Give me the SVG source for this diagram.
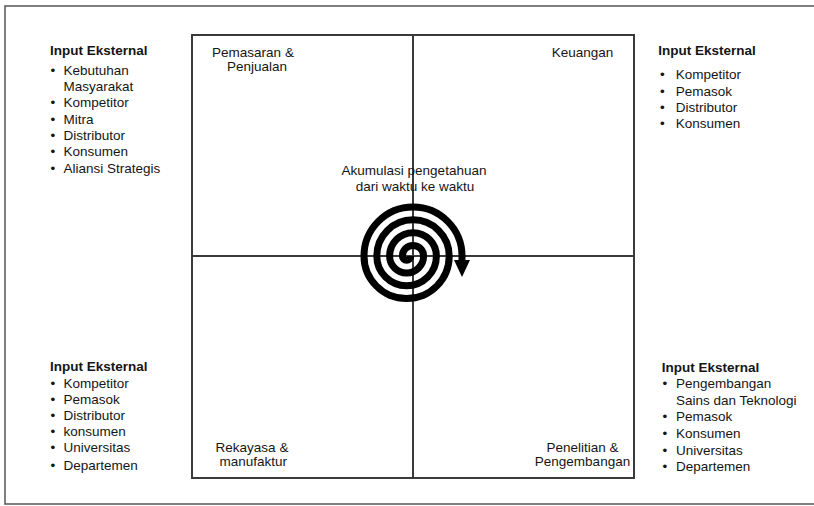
<svg xmlns="http://www.w3.org/2000/svg" width="814" height="506" viewBox="0 0 814 506">
<style>
text{font-family:"Liberation Sans",Arial,sans-serif;font-size:13.5px;fill:#151515}
.t{font-weight:bold}
.c{text-anchor:middle}
.ln{stroke:#3a3a3a;stroke-width:2;fill:none}
.sp{stroke:#000;stroke-width:7;fill:none}
</style>
<rect x="0" y="0" width="814" height="506" fill="#fff"/>
<rect x="5" y="6" width="820" height="498" fill="none" stroke="#555" stroke-width="1.5"/>
<g id="matrix">
<rect class="ln" x="192" y="35" width="442" height="443"/>
<line class="ln" x1="413" y1="35" x2="413" y2="478"/>
<line class="ln" x1="192" y1="256" x2="634" y2="256"/>
</g>
<g id="q-pemasaran">
<text class="c" x="253" y="57">Pemasaran &amp;</text>
<text class="c" x="257" y="71">Penjualan</text>
</g>
<g id="q-keuangan">
<text class="c" x="582.5" y="57">Keuangan</text>
</g>
<g id="q-rekayasa">
<text class="c" x="252" y="452.4">Rekayasa &amp;</text>
<text class="c" x="253.3" y="466.4">manufaktur</text>
</g>
<g id="q-penelitian">
<text class="c" x="582.5" y="452.4">Penelitian &amp;</text>
<text class="c" x="582.5" y="466.4">Pengembangan</text>
</g>
<g id="spiral">
<text class="c" x="414" y="174.7">Akumulasi pengetahuan</text>
<text class="c" x="415" y="190.7">dari waktu ke waktu</text>
<path class="sp" d="M410.8,256 A4.2,4.2 0 0 1 402.4,256 A10.6,10.6 0 0 1 423.6,256 A17,17 0 0 1 389.6,256 A23.4,23.4 0 0 1 436.4,256 A29.8,29.8 0 0 1 376.8,256 A36.2,36.2 0 0 1 449.2,256 A42.6,42.6 0 0 1 364,256 A49,49 0 0 1 462,256 L462,262"/>
<polygon points="454,260 470,260 462,277" fill="#000"/>
</g>
<g id="input-tl">
<text class="t" x="50" y="54.7">Input Eksternal</text>
<text x="50.5" y="74.7">•</text><text x="63.5" y="74.7">Kebutuhan</text>
<text x="63.5" y="91">Masyarakat</text>
<text x="50.5" y="107.3">•</text><text x="63.5" y="107.3">Kompetitor</text>
<text x="50.5" y="123.6">•</text><text x="63.5" y="123.6">Mitra</text>
<text x="50.5" y="139.9">•</text><text x="63.5" y="139.9">Distributor</text>
<text x="50.5" y="156.2">•</text><text x="63.5" y="156.2">Konsumen</text>
<text x="50.5" y="172.5">•</text><text x="63.5" y="172.5">Aliansi Strategis</text>
</g>
<g id="input-tr">
<text class="t" x="658.3" y="54.7">Input Eksternal</text>
<text x="660" y="79">•</text><text x="675.7" y="79">Kompetitor</text>
<text x="660" y="95.5">•</text><text x="675.7" y="95.5">Pemasok</text>
<text x="660" y="112">•</text><text x="675.7" y="112">Distributor</text>
<text x="660" y="128.3">•</text><text x="675.7" y="128.3">Konsumen</text>
</g>
<g id="input-bl">
<text class="t" x="50" y="371.4">Input Eksternal</text>
<text x="50.5" y="388">•</text><text x="63.5" y="388">Kompetitor</text>
<text x="50.5" y="404">•</text><text x="63.5" y="404">Pemasok</text>
<text x="50.5" y="419.7">•</text><text x="63.5" y="419.7">Distributor</text>
<text x="50.5" y="435.7">•</text><text x="63.5" y="435.7">konsumen</text>
<text x="50.5" y="452.4">•</text><text x="63.5" y="452.4">Universitas</text>
<text x="50.5" y="469.7">•</text><text x="63.5" y="469.7">Departemen</text>
</g>
<g id="input-br">
<text class="t" x="661.7" y="372.4">Input Eksternal</text>
<text x="662.5" y="388">•</text><text x="676" y="388">Pengembangan</text>
<text x="676" y="405.4">Sains dan Teknologi</text>
<text x="662.5" y="421.4">•</text><text x="676" y="421.4">Pemasok</text>
<text x="662.5" y="438">•</text><text x="676" y="438">Konsumen</text>
<text x="662.5" y="454.7">•</text><text x="676" y="454.7">Universitas</text>
<text x="662.5" y="471.4">•</text><text x="676" y="471.4">Departemen</text>
</g>
</svg>
